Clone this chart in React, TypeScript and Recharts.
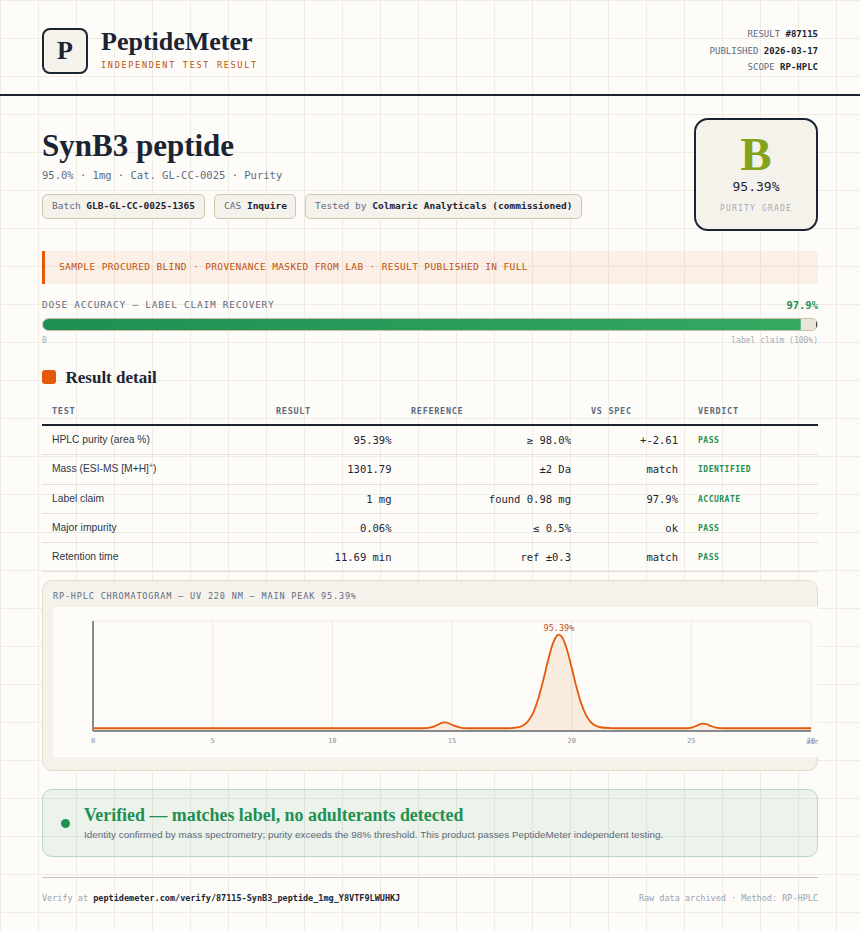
import React from "react";
import { AreaChart, Area, BarChart, Bar, XAxis, YAxis, CartesianGrid, ReferenceDot, ReferenceLine } from "recharts";

const MONO = '"DejaVu Sans Mono", monospace';
const SERIF = '"Liberation Serif", serif';
const SANS = '"Liberation Sans", sans-serif';
const INK = "#1b2433";
const SLATE = "#5f6b80";
const MUTED = "#a3abb8";
const ORANGE = "#e35a0a";
const RUST = "#c0500f";
const GREEN = "#1f8f52";

const metaRows = [
  ["RESULT", "#87115"],
  ["PUBLISHED", "2026-03-17"],
  ["SCOPE", "RP-HPLC"],
];
const metaY = [34, 51, 67];

const chips = [
  { x: 42, w: 163, label: "Batch", value: "GLB-GL-CC-0025-1365" },
  { x: 214, w: 82, label: "CAS", value: "Inquire" },
  { x: 305, w: 277, label: "Tested by", value: "Colmaric Analyticals (commissioned)" },
];

const tableHead = ["TEST", "RESULT", "REFERENCE", "VS SPEC", "VERDICT"];
const headX = [52, 276, 411, 591, 698];
const testNames = ["HPLC purity (area %)", "Mass (ESI-MS [M+H]", "Label claim", "Major impurity", "Retention time"];
const results = ["95.39%", "1301.79", "1 mg", "0.06%", "11.69 min"];
const references = ["≥ 98.0%", "±2 Da", "found 0.98 mg", "≤ 0.5%", "ref ±0.3"];
const vsSpec = ["+-2.61", "match", "97.9%", "ok", "match"];
const verdicts = ["PASS", "IDENTIFIED", "ACCURATE", "PASS", "PASS"];
const rowY = [440, 469, 498.5, 527.5, 556.5];
const nameY = [439.5, 468.5, 498.5, 527.5, 556.5];
const ruleY = [454, 484, 513, 542, 571];

const doseData = [{ name: "dose", recovery: 97.9 }];

const xTicks = [0, 5, 10, 15, 20, 25, 30];
const yTicks = [0, 25, 50, 75, 100];
const minutes = [
  0, 5, 10, 13, 13.8, 14, 14.2, 14.4, 14.6, 14.7, 14.8, 15, 15.2, 15.4, 15.6, 17.4, 17.8, 18, 18.2, 18.4, 18.6, 18.8,
  19, 19.2, 19.4, 19.47, 19.6, 19.8, 20, 20.2, 20.4, 20.6, 20.8, 21, 21.2, 21.6, 22, 24.8, 25, 25.2, 25.4, 25.5, 25.6,
  25.8, 26, 26.2, 26.4, 28, 30,
];
const signal = [
  2.5, 2.5, 2.5, 2.5, 2.5, 2.8, 3.7, 5.6, 7.6, 7.9, 7.5, 5.7, 3.9, 2.9, 2.5, 2.5, 3.5, 5.4, 9.6, 17, 29, 45, 63, 78.5,
  87, 87.6, 85.3, 74.4, 57.7, 40, 25, 14.5, 8.1, 4.8, 3.4, 2.7, 2.5, 2.5, 3, 4.6, 6.4, 6.7, 6.4, 4.7, 3.2, 2.6, 2.5,
  2.5, 2.5,
];
const chromatogram = minutes.map((t, i) => ({ t, v: signal[i] }));

function Txt({ x, r, cx, y, size, color = INK, font = MONO, weight = 400, ls = 0, children }: any) {
  const style: React.CSSProperties = {
    position: "absolute",
    top: y - 12,
    height: 24,
    lineHeight: "24px",
    fontFamily: font,
    fontSize: size,
    fontWeight: weight,
    letterSpacing: ls,
    color,
    whiteSpace: "pre",
  };
  if (x !== undefined) style.left = x;
  if (r !== undefined) {
    style.right = 860 - r;
    style.textAlign = "right";
  }
  if (cx !== undefined) {
    style.left = cx - 100;
    style.width = 200;
    style.textAlign = "center";
  }
  return <div style={style}>{children}</div>;
}

function Box({ x, y, w, h, style }: any) {
  return <div style={{ position: "absolute", left: x, top: y, width: w, height: h, boxSizing: "border-box", ...style }} />;
}

function DoseBar() {
  return (
    <div style={{ position: "absolute", left: 42, top: 318, width: 776, height: 13, boxSizing: "border-box", border: "1px solid #c9bfa8", borderRadius: 7, overflow: "hidden", background: "#e9e5da" }}>
      <BarChart width={774} height={11} data={doseData} layout="vertical" margin={{ top: 0, right: 0, bottom: 0, left: 0 }} barCategoryGap={0}>
        <defs>
          <linearGradient id="doseFill" x1="0" y1="0" x2="1" y2="0">
            <stop offset="0%" stopColor="#1f8f52" />
            <stop offset="100%" stopColor="#35a862" />
          </linearGradient>
        </defs>
        <XAxis type="number" domain={[0, 100]} hide />
        <YAxis type="category" dataKey="name" hide />
        <Bar dataKey="recovery" fill="url(#doseFill)" isAnimationActive={false} />
        <ReferenceLine x={100} stroke={INK} strokeWidth={2} />
      </BarChart>
    </div>
  );
}

function Chromatogram() {
  return (
    <div style={{ position: "absolute", left: 53, top: 607, width: 765, height: 150, background: "#fdfcf8" }}>
      <AreaChart width={765} height={150} data={chromatogram} margin={{ top: 14, right: 7, bottom: 0, left: 0 }} style={{ overflow: "visible" }}>
        <CartesianGrid stroke="#efeadd" strokeWidth={1} />
        <XAxis
          dataKey="t"
          type="number"
          domain={[0, 30]}
          ticks={xTicks}
          tickLine={false}
          axisLine={{ stroke: "#888a8e", strokeWidth: 2 }}
          tick={{ fontSize: 7, fontFamily: MONO, fill: "#8a93a5" }}
          tickMargin={1}
          height={26}
          interval={0}
          label={{ value: "min", position: "insideBottomRight", offset: 0, dx: 8, dy: -13, fontSize: 7, fontFamily: MONO, fill: "#8a93a5" }}
        />
        <YAxis
          type="number"
          domain={[0, 100]}
          ticks={yTicks}
          tick={false}
          tickLine={false}
          width={40}
          axisLine={{ stroke: "#888a8e", strokeWidth: 2 }}
        />
        <Area
          type="monotone"
          dataKey="v"
          stroke={ORANGE}
          strokeWidth={1.8}
          fill={ORANGE}
          fillOpacity={0.1}
          dot={false}
          activeDot={false}
          isAnimationActive={false}
        />
        <ReferenceDot
          x={19.47}
          y={87.6}
          r={0}
          stroke="none"
          fill="none"
          label={{ value: "95.39%", position: "top", offset: 4, fontSize: 8.5, fontFamily: MONO, fill: RUST }}
        />
      </AreaChart>
    </div>
  );
}

export default function App() {
  return (
    <div
      style={{
        position: "absolute",
        left: 0,
        top: 0,
        width: 860,
        height: 931,
        overflow: "hidden",
        backgroundColor: "#fdfcf8",
        backgroundImage: "linear-gradient(#efece5 1px, transparent 1px), linear-gradient(90deg, #efece5 1px, transparent 1px)",
        backgroundSize: "38px 38px",
      }}
    >
      {/* header */}
      <Box x={42} y={28} w={46} h={46} style={{ border: `2px solid ${INK}`, borderRadius: 8, background: "#f5f2ec" }} />
      <Txt cx={65} y={51} size={26} font={SERIF} weight={700}>P</Txt>
      <Txt x={101} y={42} size={26} font={SERIF} weight={700}>PeptideMeter</Txt>
      <Txt x={101} y={65} size={8.5} color={RUST} ls={1.7}>INDEPENDENT TEST RESULT</Txt>
      {metaRows.map((m, i) => (
        <Txt key={m[0]} r={818} y={metaY[i]} size={9} color={SLATE}>
          {m[0]} <span style={{ color: INK, fontWeight: 700 }}>{m[1]}</span>
        </Txt>
      ))}
      <Box x={0} y={94} w={860} h={2} style={{ background: INK }} />

      {/* product */}
      <Txt x={42} y={146} size={31} font={SERIF} weight={700}>SynB3 peptide</Txt>
      <Txt x={42} y={175} size={10.5} color={SLATE}>95.0% · 1mg · Cat. GL-CC-0025 · Purity</Txt>
      {chips.map((c) => (
        <React.Fragment key={c.label}>
          <Box x={c.x} y={194} w={c.w} h={25} style={{ border: "1px solid #cfc5ae", borderRadius: 5, background: "#f5f2ec" }} />
          <Txt x={c.x + 10} y={206} size={9.5} color={SLATE}>
            {c.label} <span style={{ color: INK, fontWeight: 700 }}>{c.value}</span>
          </Txt>
        </React.Fragment>
      ))}
      <Box x={694} y={118} w={124} h={113} style={{ border: `2px solid ${INK}`, borderRadius: 14, background: "#f5f2ec" }} />
      <Txt cx={756} y={154} size={47} font={SERIF} weight={700} color="#84a31c">B</Txt>
      <Txt cx={756} y={187} size={13}>95.39%</Txt>
      <Txt cx={756} y={209} size={8} color={MUTED} ls={1.2}>PURITY GRADE</Txt>

      {/* notice */}
      <Box x={42} y={251} w={776} h={33} style={{ borderLeft: `3px solid ${ORANGE}`, background: "rgba(227,90,10,0.07)" }} />
      <Txt x={59} y={267} size={9.5} color={RUST} ls={0.37}>SAMPLE PROCURED BLIND · PROVENANCE MASKED FROM LAB · RESULT PUBLISHED IN FULL</Txt>

      {/* dose accuracy */}
      <Txt x={42} y={304.5} size={9.5} color={SLATE} ls={0.74}>DOSE ACCURACY — LABEL CLAIM RECOVERY</Txt>
      <Txt r={818} y={304.5} size={10.5} weight={700} color={GREEN}>97.9%</Txt>
      <DoseBar />
      <Txt x={42} y={341} size={8} color={MUTED}>0</Txt>
      <Txt r={818} y={341} size={8} color={MUTED}>label claim (100%)</Txt>

      {/* table */}
      <Box x={42} y={370} w={14} h={14} style={{ background: ORANGE, borderRadius: 3 }} />
      <Txt x={65.5} y={378} size={17} font={SERIF} weight={700}>Result detail</Txt>
      {tableHead.map((h, i) => (
        <Txt key={h} x={headX[i]} y={411} size={8.5} weight={700} color={SLATE} ls={0.7}>{h}</Txt>
      ))}
      <Box x={42} y={423.5} w={776} h={2} style={{ background: INK }} />
      {testNames.map((name, i) => (
        <React.Fragment key={name}>
          <Txt x={52} y={nameY[i]} size={10.3} font={SANS} color="#2d3748">
            {name}
            {i === 1 ? <><sup style={{ fontSize: 7, lineHeight: 0 }}>+</sup>)</> : null}
          </Txt>
          <Txt r={391.5} y={rowY[i]} size={10.5}>{results[i]}</Txt>
          <Txt r={571} y={rowY[i]} size={10.5}>{references[i]}</Txt>
          <Txt r={678} y={rowY[i]} size={10.5}>{vsSpec[i]}</Txt>
          <Txt x={698} y={rowY[i] + 1} size={8} weight={700} color={GREEN} ls={0.5}>{verdicts[i]}</Txt>
          <Box x={42} y={ruleY[i]} w={776} h={1} style={{ background: "#e5dfd0" }} />
        </React.Fragment>
      ))}

      {/* chromatogram card */}
      <Box x={42} y={580} w={776} h={191} style={{ border: "1px solid #e3dccb", borderRadius: 10, background: "#f5f2ec" }} />
      <Txt x={53} y={596} size={8.5} color={SLATE} ls={0.84}>RP-HPLC CHROMATOGRAM — UV 220 NM — MAIN PEAK 95.39%</Txt>
      <Chromatogram />

      {/* verified */}
      <Box x={42} y={789} w={776} h={68} style={{ border: "1px solid #b5d8bf", borderRadius: 10, background: "rgba(31,143,82,0.08)" }} />
      <Box x={60.5} y={819} w={9} h={9} style={{ background: GREEN, borderRadius: "50%" }} />
      <Txt x={84} y={815} size={17.9} font={SERIF} weight={700} color={GREEN}>Verified — matches label, no adulterants detected</Txt>
      <Txt x={84} y={834.5} size={9.95} font={SANS} color={SLATE}>Identity confirmed by mass spectrometry; purity exceeds the 98% threshold. This product passes PeptideMeter independent testing.</Txt>

      {/* footer */}
      <Box x={42} y={877} w={776} h={1} style={{ background: "#c9c4b3" }} />
      <Txt x={42} y={898} size={8.5} color="#9aa3b2">
        Verify at <span style={{ color: INK, fontWeight: 700 }}>peptidemeter.com/verify/87115-SynB3_peptide_1mg_Y8VTF9LWUHKJ</span>
      </Txt>
      <Txt r={818} y={898} size={8.5} color="#9aa3b2">Raw data archived · Method: RP-HPLC</Txt>
    </div>
  );
}
